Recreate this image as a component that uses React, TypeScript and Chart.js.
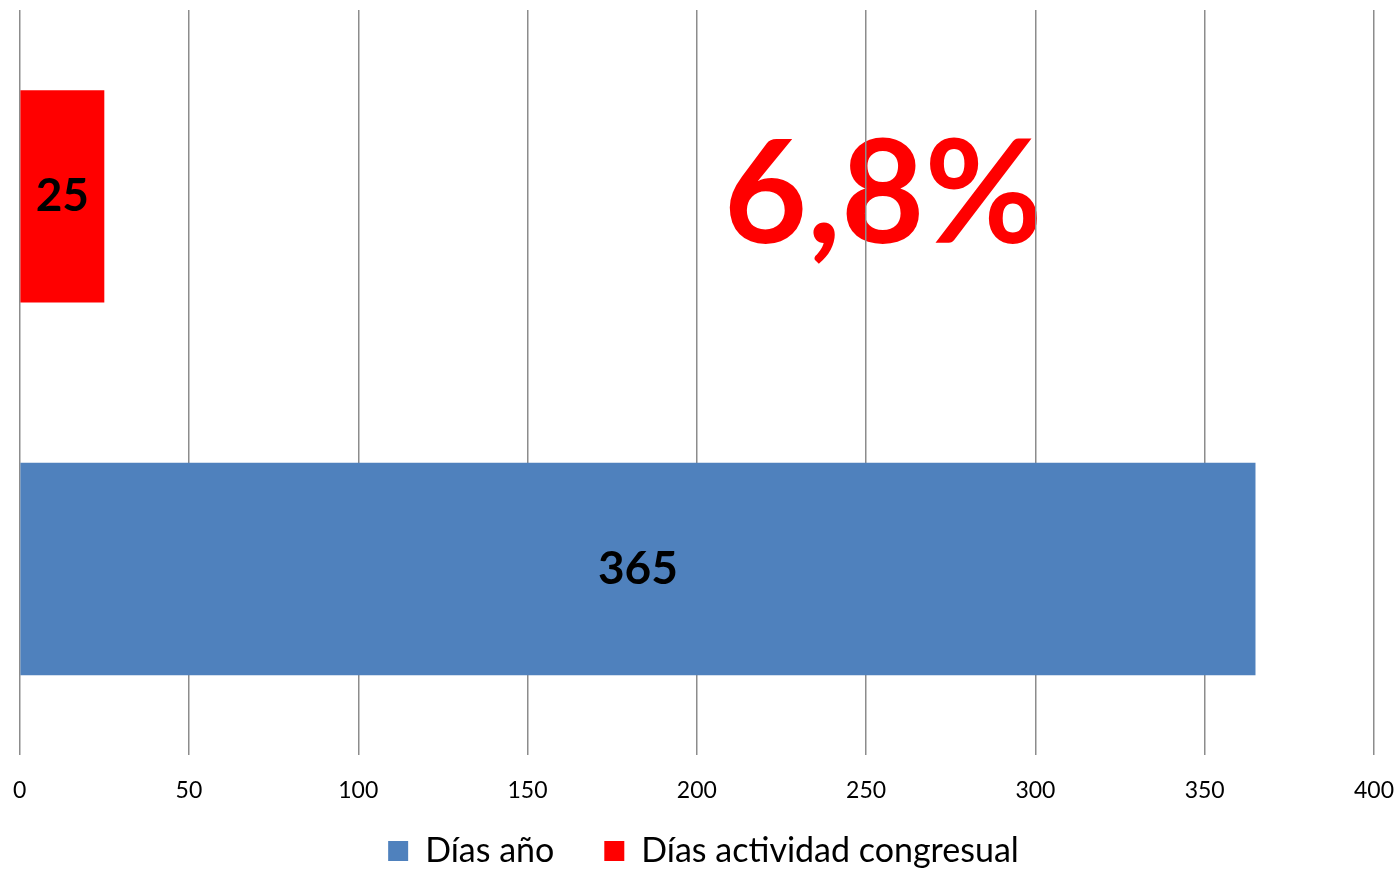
import React, { useEffect, useRef } from "react";
import { Chart, registerables } from "chart.js";

Chart.register(...registerables);

const categories = [""];
const seriesNames = ["Días actividad congresual", "Días año"];
const seriesValues = [[25], [365]];
const seriesColors = ["#FF0000", "#4F81BD"];
const xTicks = [0, 50, 100, 150, 200, 250, 300, 350, 400];
const highlightText = "6,8%";
const highlightAt = 255;

const FONT = "Lato, 'Open Sans', sans-serif";
const LEGEND_SHIFT = 41;

export default function App() {
  const ref = useRef<HTMLCanvasElement | null>(null);

  useEffect(() => {
    if (!ref.current) return;

    const overlay = {
      id: "overlay",
      beforeLayout(chart: any) {
        const lg = chart.legend;
        if (lg && !lg.__patched) {
          const orig = lg.fit.bind(lg);
          lg.fit = function () {
            orig();
            this.height = Math.max(this.height - LEGEND_SHIFT, 0);
          };
          lg.__patched = true;
        }
      },
      afterLayout(chart: any) {
        const lg = chart.legend;
        if (lg) {
          lg.top -= LEGEND_SHIFT;
        }
      },
      beforeDraw(chart: any) {
        const ctx = chart.ctx;
        const xs = chart.scales.x;
        const meta = chart.getDatasetMeta(0);
        const bar = meta.data[0];
        ctx.save();
        ctx.fillStyle = "#FF0000";
        ctx.font = `bold 144px ${FONT}`;
        ctx.textAlign = "center";
        ctx.textBaseline = "middle";
        ctx.fillText(highlightText, xs.getPixelForValue(highlightAt), bar.y);
        ctx.restore();
      },
      afterDatasetsDraw(chart: any) {
        const ctx = chart.ctx;
        ctx.save();
        ctx.fillStyle = "#000";
        ctx.font = `bold 46px ${FONT}`;
        ctx.textAlign = "center";
        ctx.textBaseline = "middle";
        chart.data.datasets.forEach((ds: any, i: number) => {
          const meta = chart.getDatasetMeta(i);
          meta.data.forEach((el: any, j: number) => {
            ctx.fillText(String(ds.data[j]), (el.x + el.base) / 2, el.y);
          });
        });
        ctx.restore();
      },
    };

    const chart = new Chart(ref.current, {
      type: "bar",
      data: {
        labels: categories,
        datasets: seriesNames.map((n, i) => ({
          label: n,
          data: seriesValues[i],
          backgroundColor: seriesColors[i],
          borderWidth: 0,
          categoryPercentage: 1.0,
          barPercentage: 0.57,
        })),
      },
      options: {
        indexAxis: "y",
        animation: false,
        responsive: false,
        devicePixelRatio: 1,
        layout: { padding: { left: 9, right: 9, top: 10, bottom: -8 } },
        scales: {
          x: {
            min: 0,
            max: 400,
            afterBuildTicks(scale: any) {
              scale.ticks = xTicks.map((v) => ({ value: v }));
            },
            grid: {
              color: "#8c8c8c",
              lineWidth: 1.5,
              drawTicks: false,
            },
            border: { display: false },
            ticks: {
              color: "#000",
              font: { family: FONT, size: 23 },
              padding: 21,
              maxRotation: 0,
            },
          },
          y: {
            display: false,
          },
        },
        plugins: {
          legend: {
            position: "bottom",
            reverse: true,
            labels: {
              color: "#000",
              font: { family: FONT, size: 34 },
              boxWidth: 20,
              boxHeight: 20,
              padding: 50,
            },
          },
          tooltip: { enabled: false },
        },
      },
      plugins: [overlay],
    });

    return () => chart.destroy();
  }, []);

  return (
    <div
      style={{
        position: "fixed",
        left: 0,
        top: 0,
        width: 1400,
        height: 870,
        overflow: "hidden",
        background: "#fff",
      }}
    >
      <canvas
        ref={ref}
        width={1423}
        height={870}
        style={{ position: "absolute", left: -8, top: 0, width: 1423, height: 870 }}
      />
    </div>
  );
}
